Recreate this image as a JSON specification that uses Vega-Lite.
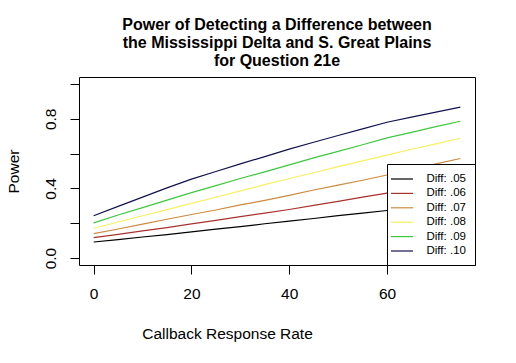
{
  "$schema": "https://vega.github.io/schema/vega-lite/v6.json",
  "width": 396,
  "height": 188,
  "autosize": "none",
  "padding": {"left": 79, "top": 77, "right": 41, "bottom": 98},
  "background": "white",
  "config": {
    "view": {"stroke": "black", "strokeWidth": 1},
    "font": "Liberation Sans"
  },
  "title": {
    "text": ["Power of Detecting a Difference between", "the Mississippi Delta and S. Great Plains", "for Question 21e"],
    "font": "Liberation Sans",
    "fontSize": 16,
    "fontWeight": "bold",
    "lineHeight": 18,
    "anchor": "middle",
    "frame": "group",
    "offset": 8,
    "color": "black"
  },
  "data": {
    "values": [
      {"rate": 0, "power": 0.092, "diff": "Diff: .05"},
      {"rate": 5, "power": 0.106, "diff": "Diff: .05"},
      {"rate": 10, "power": 0.121, "diff": "Diff: .05"},
      {"rate": 15, "power": 0.135, "diff": "Diff: .05"},
      {"rate": 20, "power": 0.150, "diff": "Diff: .05"},
      {"rate": 25, "power": 0.166, "diff": "Diff: .05"},
      {"rate": 30, "power": 0.180, "diff": "Diff: .05"},
      {"rate": 35, "power": 0.197, "diff": "Diff: .05"},
      {"rate": 40, "power": 0.212, "diff": "Diff: .05"},
      {"rate": 45, "power": 0.227, "diff": "Diff: .05"},
      {"rate": 50, "power": 0.244, "diff": "Diff: .05"},
      {"rate": 55, "power": 0.258, "diff": "Diff: .05"},
      {"rate": 60, "power": 0.273, "diff": "Diff: .05"},
      {"rate": 65, "power": 0.288, "diff": "Diff: .05"},
      {"rate": 70, "power": 0.301, "diff": "Diff: .05"},
      {"rate": 75, "power": 0.315, "diff": "Diff: .05"},
      {"rate": 0, "power": 0.117, "diff": "Diff: .06"},
      {"rate": 5, "power": 0.136, "diff": "Diff: .06"},
      {"rate": 10, "power": 0.156, "diff": "Diff: .06"},
      {"rate": 15, "power": 0.175, "diff": "Diff: .06"},
      {"rate": 20, "power": 0.196, "diff": "Diff: .06"},
      {"rate": 25, "power": 0.216, "diff": "Diff: .06"},
      {"rate": 30, "power": 0.238, "diff": "Diff: .06"},
      {"rate": 35, "power": 0.258, "diff": "Diff: .06"},
      {"rate": 40, "power": 0.279, "diff": "Diff: .06"},
      {"rate": 45, "power": 0.302, "diff": "Diff: .06"},
      {"rate": 50, "power": 0.325, "diff": "Diff: .06"},
      {"rate": 55, "power": 0.350, "diff": "Diff: .06"},
      {"rate": 60, "power": 0.373, "diff": "Diff: .06"},
      {"rate": 65, "power": 0.394, "diff": "Diff: .06"},
      {"rate": 70, "power": 0.416, "diff": "Diff: .06"},
      {"rate": 75, "power": 0.437, "diff": "Diff: .06"},
      {"rate": 0, "power": 0.140, "diff": "Diff: .07"},
      {"rate": 5, "power": 0.167, "diff": "Diff: .07"},
      {"rate": 10, "power": 0.195, "diff": "Diff: .07"},
      {"rate": 15, "power": 0.223, "diff": "Diff: .07"},
      {"rate": 20, "power": 0.250, "diff": "Diff: .07"},
      {"rate": 25, "power": 0.276, "diff": "Diff: .07"},
      {"rate": 30, "power": 0.305, "diff": "Diff: .07"},
      {"rate": 35, "power": 0.331, "diff": "Diff: .07"},
      {"rate": 40, "power": 0.360, "diff": "Diff: .07"},
      {"rate": 45, "power": 0.391, "diff": "Diff: .07"},
      {"rate": 50, "power": 0.419, "diff": "Diff: .07"},
      {"rate": 55, "power": 0.447, "diff": "Diff: .07"},
      {"rate": 60, "power": 0.477, "diff": "Diff: .07"},
      {"rate": 65, "power": 0.510, "diff": "Diff: .07"},
      {"rate": 70, "power": 0.541, "diff": "Diff: .07"},
      {"rate": 75, "power": 0.572, "diff": "Diff: .07"},
      {"rate": 0, "power": 0.171, "diff": "Diff: .08"},
      {"rate": 5, "power": 0.207, "diff": "Diff: .08"},
      {"rate": 10, "power": 0.243, "diff": "Diff: .08"},
      {"rate": 15, "power": 0.278, "diff": "Diff: .08"},
      {"rate": 20, "power": 0.314, "diff": "Diff: .08"},
      {"rate": 25, "power": 0.349, "diff": "Diff: .08"},
      {"rate": 30, "power": 0.386, "diff": "Diff: .08"},
      {"rate": 35, "power": 0.422, "diff": "Diff: .08"},
      {"rate": 40, "power": 0.457, "diff": "Diff: .08"},
      {"rate": 45, "power": 0.490, "diff": "Diff: .08"},
      {"rate": 50, "power": 0.525, "diff": "Diff: .08"},
      {"rate": 55, "power": 0.558, "diff": "Diff: .08"},
      {"rate": 60, "power": 0.591, "diff": "Diff: .08"},
      {"rate": 65, "power": 0.625, "diff": "Diff: .08"},
      {"rate": 70, "power": 0.656, "diff": "Diff: .08"},
      {"rate": 75, "power": 0.688, "diff": "Diff: .08"},
      {"rate": 0, "power": 0.202, "diff": "Diff: .09"},
      {"rate": 5, "power": 0.247, "diff": "Diff: .09"},
      {"rate": 10, "power": 0.290, "diff": "Diff: .09"},
      {"rate": 15, "power": 0.333, "diff": "Diff: .09"},
      {"rate": 20, "power": 0.376, "diff": "Diff: .09"},
      {"rate": 25, "power": 0.416, "diff": "Diff: .09"},
      {"rate": 30, "power": 0.457, "diff": "Diff: .09"},
      {"rate": 35, "power": 0.495, "diff": "Diff: .09"},
      {"rate": 40, "power": 0.535, "diff": "Diff: .09"},
      {"rate": 45, "power": 0.575, "diff": "Diff: .09"},
      {"rate": 50, "power": 0.613, "diff": "Diff: .09"},
      {"rate": 55, "power": 0.651, "diff": "Diff: .09"},
      {"rate": 60, "power": 0.690, "diff": "Diff: .09"},
      {"rate": 65, "power": 0.722, "diff": "Diff: .09"},
      {"rate": 70, "power": 0.755, "diff": "Diff: .09"},
      {"rate": 75, "power": 0.786, "diff": "Diff: .09"},
      {"rate": 0, "power": 0.243, "diff": "Diff: .10"},
      {"rate": 5, "power": 0.297, "diff": "Diff: .10"},
      {"rate": 10, "power": 0.350, "diff": "Diff: .10"},
      {"rate": 15, "power": 0.403, "diff": "Diff: .10"},
      {"rate": 20, "power": 0.453, "diff": "Diff: .10"},
      {"rate": 25, "power": 0.497, "diff": "Diff: .10"},
      {"rate": 30, "power": 0.541, "diff": "Diff: .10"},
      {"rate": 35, "power": 0.583, "diff": "Diff: .10"},
      {"rate": 40, "power": 0.626, "diff": "Diff: .10"},
      {"rate": 45, "power": 0.665, "diff": "Diff: .10"},
      {"rate": 50, "power": 0.704, "diff": "Diff: .10"},
      {"rate": 55, "power": 0.742, "diff": "Diff: .10"},
      {"rate": 60, "power": 0.780, "diff": "Diff: .10"},
      {"rate": 65, "power": 0.809, "diff": "Diff: .10"},
      {"rate": 70, "power": 0.838, "diff": "Diff: .10"},
      {"rate": 75, "power": 0.867, "diff": "Diff: .10"}
    ]
  },
  "mark": {"type": "line", "strokeWidth": 1.2},
  "encoding": {
    "x": {
      "field": "rate",
      "type": "quantitative",
      "scale": {"domain": [-3, 78], "nice": false, "zero": false},
      "axis": {
        "values": [0, 20, 40, 60],
        "grid": false,
        "domain": false,
        "tickSize": 9,
        "tickColor": "black",
        "labelFontSize": 15.5,
        "labelColor": "black",
        "labelPadding": 12,
        "title": "Callback Response Rate",
        "titleFontSize": 15.5,
        "titleFontWeight": "normal",
        "titleColor": "black",
        "titleX": 148,
        "titleY": 68,
        "titleAlign": "center",
        "titleBaseline": "middle"
      }
    },
    "y": {
      "field": "power",
      "type": "quantitative",
      "scale": {"domain": [-0.04, 1.04], "nice": false, "zero": false},
      "axis": {
        "values": [0, 0.2, 0.4, 0.6, 0.8, 1.0],
        "format": ".1f",
        "labelExpr": "round(datum.value * 10) % 4 == 0 ? datum.label : ''",
        "grid": false,
        "domain": false,
        "tickSize": 9,
        "tickColor": "black",
        "labelFontSize": 15.5,
        "labelColor": "black",
        "labelAngle": -90,
        "labelAlign": "center",
        "labelBaseline": "bottom",
        "labelPadding": 12,
        "title": "Power",
        "titleFontSize": 15.5,
        "titleFontWeight": "normal",
        "titleColor": "black",
        "titleX": -66,
        "titleY": 94,
        "titleAlign": "center",
        "titleBaseline": "middle"
      }
    },
    "color": {
      "field": "diff",
      "type": "nominal",
      "scale": {
        "domain": ["Diff: .05", "Diff: .06", "Diff: .07", "Diff: .08", "Diff: .09", "Diff: .10"],
        "range": ["#000000", "#a8322d", "#cd8a3f", "#f7f060", "#3ec83e", "#12124f"]
      },
      "legend": {
        "orient": "none",
        "legendX": 308,
        "legendY": 87,
        "title": null,
        "symbolType": "M-2,0H2",
        "symbolSize": 121,
        "symbolStrokeWidth": 1.2,
        "labelFontSize": 11.5,
        "labelColor": "black",
        "labelOffset": 18,
        "rowPadding": 2.4,
        "padding": 8.5,
        "strokeColor": "black",
        "fillColor": "white",
        "cornerRadius": 0,
        "labelLimit": 200,
        "encode": {
          "labels": {"update": {"fill": {"value": "black"}}}
        }
      }
    }
  }
}
